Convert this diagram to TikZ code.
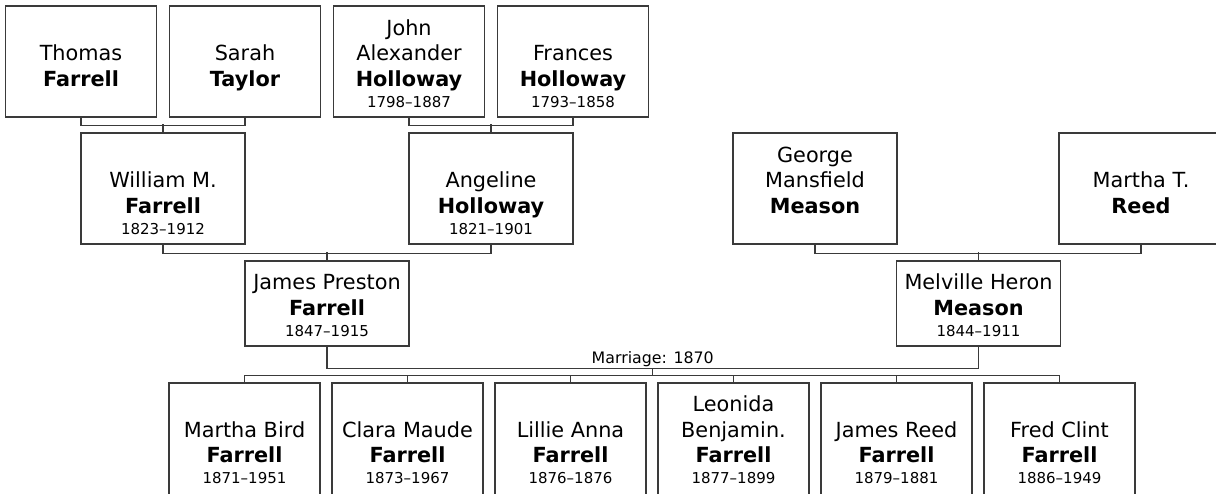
\documentclass[tikz,border=0pt]{standalone}
\usepackage{fontspec}
\setmainfont{DejaVu Sans}
\usepackage{xcolor}
\usetikzlibrary{positioning,calc}

\definecolor{linegray}{HTML}{3A3A3A}
\newcommand{\namefont}{\fontsize{20.8}{25.7}\selectfont}
\newcommand{\datefont}{\fontsize{15}{18}\selectfont}
% box content: [bottom padding]{height}{given names}{surname}{dates}
\newcommand{\person}[5][10pt]{\vbox to #2pt{\vss\hbox{\namefont
  \begin{tabular}{@{}c@{}}#3\\\textbf{#4}\\[-5.2pt]{\datefont #5}\rule[-#1]{0pt}{0pt}\end{tabular}}\kern0pt}}

\begin{document}
\begin{tikzpicture}[
  x=1pt,y=-1pt,
  node distance=10.7pt,
  box/.style={draw=linegray,line width=1.3pt,fill=white,inner sep=0pt,minimum width=151pt},
  wide/.style={box,minimum width=164pt},
  link/.style={draw=linegray,line width=1.3pt}
]
\path[use as bounding box,fill=white] (0,0) rectangle (1216,493);

% grandparents
\node[box] (thomas) at (81,61.5) {\person{111}{Thomas}{Farrell}{}};
\node[box,right=11.7pt of thomas] (sarah) {\person{111}{Sarah}{Taylor}{}};
\node[box,right=11.7pt of sarah] (john) {\person{111}{John\\Alexander}{Holloway}{1798--1887}};
\node[box,right=11.7pt of john] (frances) {\person{111}{Frances}{Holloway}{1793--1858}};

% parents
\node[wide] (william) at (163,188.5) {\person{111}{William M.}{Farrell}{1823--1912}};
\node[wide] (angeline) at (491,188.5) {\person{111}{Angeline}{Holloway}{1821--1901}};
\node[wide] (george) at (815,188.5) {\person{111}{George\\Mansfield}{Meason}{}};
\node[wide] (marthat) at (1141,188.5) {\person{111}{Martha T.}{Reed}{}};

% couple
\node[wide] (james) at (327,303.5) {\person{85}{James Preston}{Farrell}{1847--1915}};
\node[wide] (melville) at (978.5,303.5) {\person{85}{Melville Heron}{Meason}{1844--1911}};

% children
\node[box] (martha) at (244.5,439.5) {\person[12.7pt]{113}{Martha Bird}{Farrell}{1871--1951}};
\node[box,right=of martha] (clara) {\person[12.7pt]{113}{Clara Maude}{Farrell}{1873--1967}};
\node[box,right=of clara] (lillie) {\person[12.7pt]{113}{Lillie Anna}{Farrell}{1876--1876}};
\node[box,right=of lillie] (leonida) {\person[12.7pt]{113}{Leonida\\Benjamin.}{Farrell}{1877--1899}};
\node[box,right=of leonida] (jamesr) {\person[12.7pt]{113}{James Reed}{Farrell}{1879--1881}};
\node[box,right=of jamesr] (fred) {\person[12.7pt]{113}{Fred Clint}{Farrell}{1886--1949}};

\draw[link] (thomas.south) -- ++(0,8) -| (sarah.south);
\draw[link] (william.north) -- ++(0,-8);
\draw[link] (john.south) -- ++(0,8) -| (frances.south);
\draw[link] (angeline.north) -- ++(0,-8);
\draw[link] (william.south) -- ++(0,8.5) -| (angeline.south);
\draw[link] (james.north) -- ++(0,-8.5);
\draw[link] (george.south) -- ++(0,8.5) -| (marthat.south);
\draw[link] (melville.north) -- ++(0,-8.5);

\coordinate (wed) at ($(james.south)!.5!(melville.south)+(0,21.5)$);
\draw[link] (james.south) |- (wed) -| (melville.south);
\node[above=1pt of wed,inner sep=0pt,font=\fontsize{15.8}{18}\selectfont] (wedlabel) {Marriage: 1870};
\foreach \c in {martha,clara,lillie,leonida,jamesr,fred}
  \draw[link] (wed) -- ++(0,7.5) -| (\c.north);
\end{tikzpicture}
\end{document}
